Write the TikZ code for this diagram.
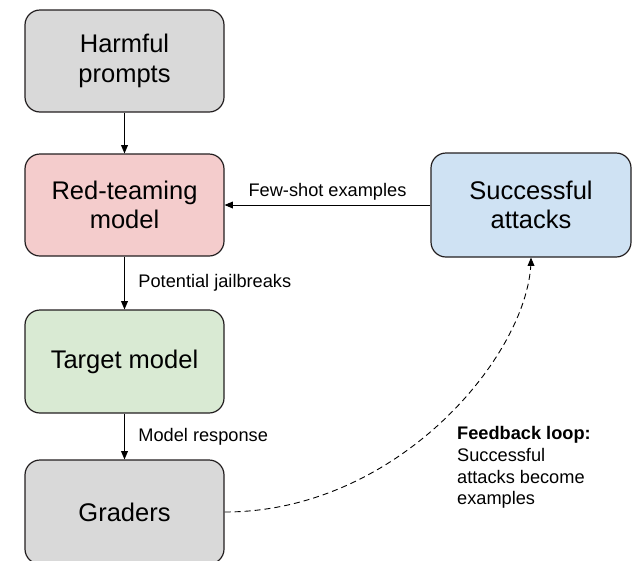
\documentclass[tikz,border=0pt]{standalone}
\usepackage[usenames,dvipsnames]{xcolor}
\usepackage{fontspec}
\setmainfont{Liberation Sans}
\usepackage{tikz}
\usetikzlibrary{shapes,arrows}

\definecolor{harmColor}{RGB}{217,217,217}
\definecolor{redColor}{RGB}{244,204,204}
\definecolor{targetColor}{RGB}{217,234,211}
\definecolor{succColor}{RGB}{207,226,243}
\definecolor{gradeColor}{RGB}{217,217,217}

\begin{document}
\begin{tikzpicture}[x=1pt,y=-1pt,
  stage/.style={draw=Black,line width=1.2pt,rounded corners=15pt,minimum width=199pt,minimum height=102pt,inner sep=0pt,align=center,font=\fontsize{25.5}{29.3}\selectfont},
  flow/.style={->,>=triangle 45,line width=0.9pt},
  note/.style={font=\fontsize{18.2}{21.7}\selectfont,inner sep=0pt}]
\useasboundingbox (0,0) rectangle (636,560);
% boxes
\node[stage,fill=harmColor] (harm) at (124.5,61) {Harmful\\prompts};
\node[stage,fill=redColor] (red) at (124.5,205) {Red-teaming\\model};
\node[stage,fill=targetColor,minimum height=103pt] (target) at (124.5,361.5) {Target model};
\node[stage,fill=gradeColor,minimum height=104pt] (graders) at (124.5,512) {Graders};
\node[stage,fill=succColor,minimum width=200pt,minimum height=104pt] (succ) at (531,205) {Successful\\attacks};
% connectors
\draw[flow] (harm) -- (red);
\draw[flow] (red) -- node[note,anchor=west,xshift=13.5pt] (jail) {Potential jailbreaks} (target);
\draw[flow] (target) -- node[note,anchor=west,xshift=13.5pt] (resp) {Model response} (graders);
\draw[flow] (succ) -- node[note,yshift=13pt] (fewshot) {Few-shot examples} (red);
\draw[flow,dashed,dash pattern=on 6pt off 4pt] (graders.east) .. controls +(176,0) and +(0,93) .. (succ.south);
\node[note,anchor=north west,align=left] (loop) at (457,426.5) {\textbf{Feedback loop:}\\Successful\\attacks become\\examples};
\end{tikzpicture}
\end{document}
